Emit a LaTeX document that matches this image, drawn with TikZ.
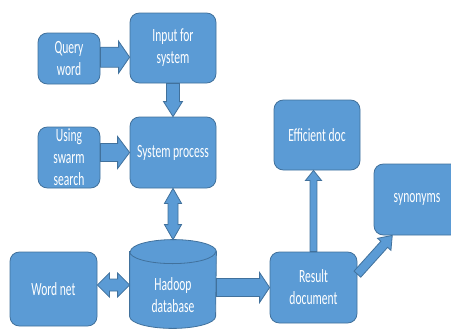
\documentclass[tikz,border=0pt]{standalone}
\usepackage{fontspec}
\setmainfont{Carlito}[FakeStretch=0.62]
\usetikzlibrary{positioning, calc, backgrounds}
\definecolor{cB}{RGB}{91,155,213}
\definecolor{cL}{RGB}{65,113,156}

% block arrow: from, to, shaft half width, head half width, head length
\newcommand{\blockarrow}[5]{%
  \coordinate (hB) at ($(#2)!#5!(#1)$);
  \draw[arr] ($(#1)!#3!90:(#2)$) -- ($(hB)!#3!90:(#2)$) -- ($(hB)!#4!90:(#2)$) -- (#2)
    -- ($(hB)!#4!-90:(#2)$) -- ($(hB)!#3!-90:(#2)$) -- ($(#1)!#3!-90:(#2)$) -- cycle;
}
% same with a head on both ends
\newcommand{\dblarrow}[5]{%
  \coordinate (hA) at ($(#1)!#5!(#2)$);
  \coordinate (hB) at ($(#2)!#5!(#1)$);
  \draw[arr] (#1) -- ($(hA)!#4!90:(#2)$) -- ($(hA)!#3!90:(#2)$) -- ($(hB)!#3!90:(#2)$)
    -- ($(hB)!#4!90:(#2)$) -- (#2) -- ($(hB)!#4!-90:(#2)$) -- ($(hB)!#3!-90:(#2)$)
    -- ($(hA)!#3!-90:(#2)$) -- ($(hA)!#4!-90:(#2)$) -- cycle;
}

\tikzset{
  proc/.style={draw=cL, fill=cB, rounded corners=7pt, text=white, align=center,
               inner sep=0pt, line width=0.6pt, font=\fontsize{14}{16.5}\selectfont},
  arr/.style={draw=cL, fill=cB, line width=0.6pt, line join=miter}
}

\begin{document}
\begin{tikzpicture}[x=0.75pt, y=-0.75pt]
    \useasboundingbox (0,0) rectangle (451,330);

    % Nodes
    \node[proc, minimum width=46.5pt, minimum height=38.25pt] (qw) at (69,58.5) {Query\\word};
    \node[proc, minimum width=64.5pt, minimum height=52.5pt] (inp) at (173,48) {Input for\\system};
    \node[proc, minimum width=46.5pt, minimum height=45.75pt] (sw) at (69,157.5) {Using\\swarm\\search};
    \node[proc, minimum width=64.5pt, minimum height=53.25pt] (sp) at (173,152.5) {System process};
    \node[proc, draw=none, fill=none, minimum width=64.5pt, minimum height=49.5pt] (hd) at (173,295) {Hadoop\\database};
    \node[proc, minimum width=65.25pt, minimum height=55.5pt] (wn) at (53.5,289) {Word net};
    \node[proc, minimum width=65.25pt, minimum height=53.25pt] (rd) at (313.5,287.5) {Result\\document};
    \node[proc, minimum width=64.5pt, minimum height=52.5pt] (ed) at (317,135) {Efficient doc};
    \node[proc, minimum width=64.5pt, minimum height=53.25pt] (syn) at (417,199.5) {synonyms};

    % Cylinder
    \begin{scope}[on background layer]
        \draw[proc, sharp corners] ([yshift=7.5pt]hd.north west) -- ([yshift=9pt]hd.south west)
            arc[start angle=180, end angle=360, x radius=32.25pt, y radius=9pt]
            -- ([yshift=7.5pt]hd.north east)
            arc[start angle=0, end angle=180, x radius=32.25pt, y radius=9pt] -- cycle;
        \draw[cL, line width=0.6pt] ([yshift=7.5pt]hd.north west)
            arc[start angle=180, end angle=360, x radius=32.25pt, y radius=9pt];
    \end{scope}

    % Connectors
    \coordinate (qwr) at ([yshift=1pt]qw.east);
    \coordinate (inpl) at (qwr -| inp.west);
    \coordinate (swr) at (sw.east |- sp.west);
    \coordinate (cyltop) at ([yshift=16.5pt]hd.north);
    \coordinate (wnr) at ([yshift=3pt]wn.east);
    \coordinate (hdl) at (wnr -| hd.west);
    \coordinate (hdr) at (hd.east |- rd.west);
    \coordinate (edb) at (rd.north |- ed.south);
    \coordinate (rdr) at ([yshift=10pt]rd.east);
    \coordinate (synb) at ([xshift=14pt]syn.south west);

    \blockarrow{qwr}{inpl}{7.5pt}{12pt}{8.25pt}
    \blockarrow{inp.south}{sp.north}{4.9pt}{7.1pt}{11.25pt}
    \blockarrow{swr}{sp.west}{6.75pt}{12pt}{9pt}
    \dblarrow{sp.south}{cyltop}{3.75pt}{6.4pt}{11.25pt}
    \dblarrow{wnr}{hdl}{4.5pt}{9pt}{9pt}
    \blockarrow{hdr}{rd.west}{6.75pt}{11.25pt}{7.5pt}
    \blockarrow{rd.north}{edb}{2.6pt}{6pt}{7.5pt}
    \blockarrow{rdr}{synb}{3.4pt}{6.75pt}{9pt}

\end{tikzpicture}
\end{document}
